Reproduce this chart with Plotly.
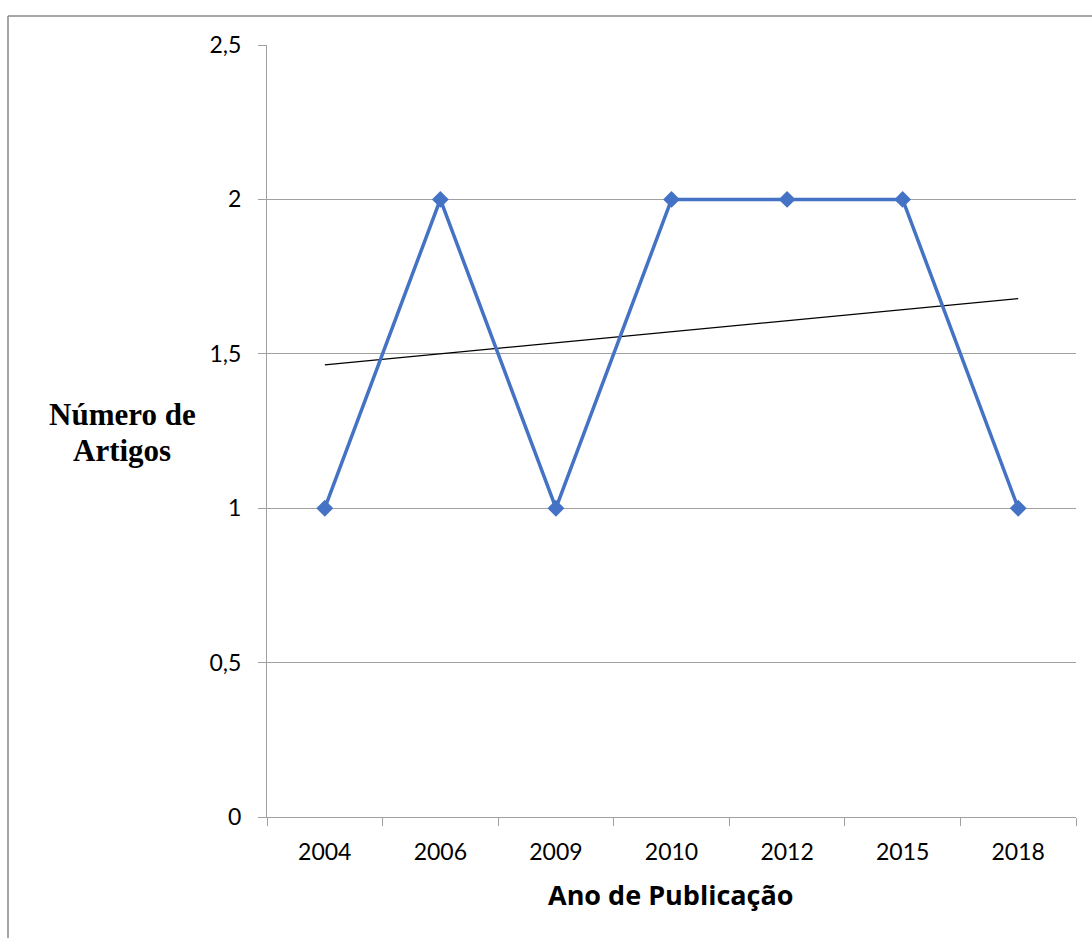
import numpy as np
import plotly.graph_objects as go

# Publication years (categorical axis) and article counts per year
anos = ["2004", "2006", "2009", "2010", "2012", "2015", "2018"]
artigos = [1, 2, 1, 2, 2, 2, 1]

# Linear trend fitted over category index
idx = np.arange(1, len(anos) + 1)
coef = np.polyfit(idx, artigos, 1)
tendencia = np.polyval(coef, idx)

W, H = 1092, 938
L, R, T, B = 267, 16, 45, 121
pw, ph = W - L - R, H - T - B

fig = go.Figure()
fig.add_trace(go.Scatter(
    x=anos, y=tendencia, mode="lines",
    line=dict(color="#000000", width=1.2),
    showlegend=False,
))
fig.add_trace(go.Scatter(
    x=anos, y=artigos, mode="lines+markers",
    line=dict(color="#4472C4", width=3.5),
    marker=dict(symbol="diamond", size=13, color="#4472C4"),
    showlegend=False,
))

grid = "#a0a0a0"
tick_font = dict(family="Lato, Open Sans, sans-serif", size=23, color="#000")
fig.update_xaxes(
    type="category", range=[-0.5, len(anos) - 0.5],
    tickson="boundaries", ticks="outside", ticklen=8,
    tickcolor=grid, showline=True, linecolor=grid, linewidth=1,
    showgrid=False, zeroline=False,
    tickfont=tick_font, ticklabelstandoff=14,
)
fig.update_yaxes(
    range=[0, 2.5], tickvals=[0, 0.5, 1, 1.5, 2, 2.5],
    ticktext=["0", "0,5", "1", "1,5", "2", "2,5"],
    ticks="outside", ticklen=8, tickcolor=grid,
    showline=True, linecolor=grid, linewidth=1,
    showgrid=True, gridcolor=grid, gridwidth=1, zeroline=False,
    tickfont=tick_font, ticklabelstandoff=12,
)

# Outer frame: left and top edges of the chart border
def px_x(p):
    return (p - L) / pw

def px_y(p):
    return (H - B - p) / ph

frame = dict(color="#888888", width=1.5)
fig.add_shape(type="line", xref="paper", yref="paper",
              x0=px_x(8), x1=px_x(1100), y0=px_y(16), y1=px_y(16), line=frame)
fig.add_shape(type="line", xref="paper", yref="paper",
              x0=px_x(8), x1=px_x(8), y0=px_y(16), y1=px_y(945), line=frame)

# Axis titles
serif = dict(family="Liberation Serif, Times New Roman, serif", size=31, color="#000")
for texto, yc in (("<b>Número de</b>", 414), ("<b>Artigos</b>", 450)):
    fig.add_annotation(
        text=texto, xref="paper", yref="paper",
        x=px_x(122), y=px_y(yc), xanchor="center", yanchor="middle",
        showarrow=False, font=serif,
    )
fig.add_annotation(
    text="<b>Ano de Publicação</b>", xref="paper", yref="paper",
    x=px_x(671), y=px_y(895), xanchor="center", yanchor="middle",
    showarrow=False,
    font=dict(family="Open Sans, sans-serif", size=27, color="#000"),
)

fig.update_layout(
    width=W, height=H, margin=dict(l=L, r=R, t=T, b=B),
    paper_bgcolor="white", plot_bgcolor="white",
)

fig.write_html("out.html")
